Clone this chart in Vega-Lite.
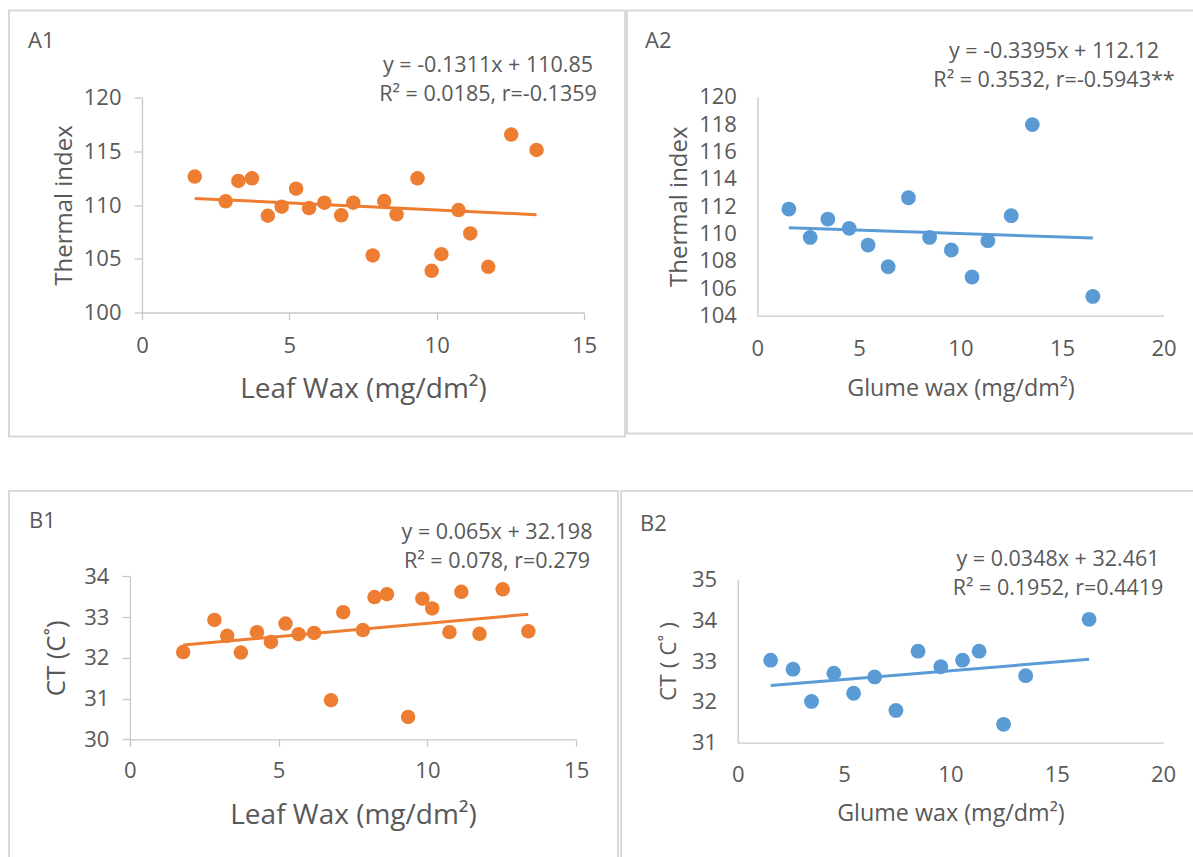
{
  "$schema": "https://vega.github.io/schema/vega-lite/v6.json",
  "background": "white",
  "padding": {"left": 8, "top": 9.5, "right": 0, "bottom": 0},
  "datasets": {
    "leafTI": [
      {"wax": 1.79, "value": 112.64}, {"wax": 2.84, "value": 110.34}, {"wax": 3.27, "value": 112.24},
      {"wax": 3.73, "value": 112.48}, {"wax": 4.27, "value": 109.0}, {"wax": 4.74, "value": 109.84},
      {"wax": 5.23, "value": 111.52}, {"wax": 5.67, "value": 109.72}, {"wax": 6.19, "value": 110.22},
      {"wax": 6.76, "value": 109.04}, {"wax": 7.17, "value": 110.22}, {"wax": 7.83, "value": 105.31},
      {"wax": 8.22, "value": 110.37}, {"wax": 8.64, "value": 109.13}, {"wax": 9.35, "value": 112.48},
      {"wax": 9.83, "value": 103.88}, {"wax": 10.16, "value": 105.43}, {"wax": 10.74, "value": 109.53},
      {"wax": 11.14, "value": 107.36}, {"wax": 11.75, "value": 104.25}, {"wax": 12.53, "value": 116.55},
      {"wax": 13.39, "value": 115.12}
    ],
    "leafTIFit": [{"wax": 1.79, "value": 110.615}, {"wax": 13.39, "value": 109.095}],
    "glumeTI": [
      {"wax": 1.55, "value": 111.79}, {"wax": 2.6, "value": 109.72}, {"wax": 3.47, "value": 111.06},
      {"wax": 4.52, "value": 110.38}, {"wax": 5.45, "value": 109.16}, {"wax": 6.44, "value": 107.58},
      {"wax": 7.44, "value": 112.62}, {"wax": 8.48, "value": 109.72}, {"wax": 9.55, "value": 108.8},
      {"wax": 10.57, "value": 106.83}, {"wax": 11.35, "value": 109.48}, {"wax": 12.5, "value": 111.31},
      {"wax": 13.54, "value": 117.96}, {"wax": 16.52, "value": 105.41}
    ],
    "glumeTIFit": [{"wax": 1.55, "value": 110.43}, {"wax": 16.52, "value": 109.67}],
    "leafCT": [
      {"wax": 1.79, "value": 32.14}, {"wax": 2.84, "value": 32.93}, {"wax": 3.27, "value": 32.54},
      {"wax": 3.73, "value": 32.13}, {"wax": 4.27, "value": 32.63}, {"wax": 4.74, "value": 32.39},
      {"wax": 5.23, "value": 32.84}, {"wax": 5.67, "value": 32.58}, {"wax": 6.19, "value": 32.61},
      {"wax": 6.76, "value": 30.96}, {"wax": 7.17, "value": 33.12}, {"wax": 7.83, "value": 32.68},
      {"wax": 8.22, "value": 33.49}, {"wax": 8.64, "value": 33.56}, {"wax": 9.35, "value": 30.55},
      {"wax": 9.83, "value": 33.45}, {"wax": 10.16, "value": 33.21}, {"wax": 10.74, "value": 32.63},
      {"wax": 11.14, "value": 33.62}, {"wax": 11.75, "value": 32.59}, {"wax": 12.53, "value": 33.68},
      {"wax": 13.39, "value": 32.65}
    ],
    "leafCTFit": [{"wax": 1.79, "value": 32.314}, {"wax": 13.39, "value": 33.068}],
    "glumeCT": [
      {"wax": 1.55, "value": 33.02}, {"wax": 2.6, "value": 32.8}, {"wax": 3.47, "value": 32.01},
      {"wax": 4.52, "value": 32.7}, {"wax": 5.45, "value": 32.21}, {"wax": 6.44, "value": 32.61},
      {"wax": 7.44, "value": 31.79}, {"wax": 8.48, "value": 33.24}, {"wax": 9.55, "value": 32.86},
      {"wax": 10.57, "value": 33.02}, {"wax": 11.35, "value": 33.24}, {"wax": 12.5, "value": 31.45},
      {"wax": 13.54, "value": 32.64}, {"wax": 16.52, "value": 34.02}
    ],
    "glumeCTFit": [{"wax": 1.55, "value": 32.4}, {"wax": 16.52, "value": 33.04}]
  },
  "vconcat": [
    {
      "spacing": 0,
      "hconcat": [
        {
          "title": {"text": "A1", "anchor": "start", "frame": "group", "dx": 19, "offset": -43.3, "fontSize": 22},
          "vconcat": [
            {
              "width": 616,
              "height": 426,
              "title": {"text": ["y = -0.1311x + 110.85", "R² = 0.0185, r=-0.1359"], "anchor": "start", "align": "center", "frame": "group", "dx": 479, "offset": -95.2, "fontSize": 21.5, "lineHeight": 29},
              "layer": [
                {
                  "data": {"name": "leafTI"},
                  "mark": {"type": "circle", "size": 210, "color": "#ED7D31", "opacity": 1},
                  "encoding": {
                    "x": {"field": "wax", "type": "quantitative",
                      "scale": {"domain": [0, 15], "range": [133, 575], "nice": false, "zero": false},
                      "axis": {"values": [0, 5, 10, 15], "offset": -124, "tickSize": 7, "labelPadding": 16,
                        "title": "Leaf Wax (mg/dm²)", "titleFontSize": 28, "titleY": 85, "titleBaseline": "alphabetic"}},
                    "y": {"field": "value", "type": "quantitative",
                      "scale": {"domain": [100, 120], "range": [302, 87], "nice": false, "zero": false},
                      "axis": {"values": [100, 105, 110, 115, 120], "format": "d", "offset": -133, "tickSize": 8, "labelPadding": 13,
                        "title": "Thermal index", "titleFontSize": 24, "titleX": -71, "titleBaseline": "alphabetic"}}
                  }
                },
                {
                  "data": {"name": "leafTIFit"},
                  "mark": {"type": "line", "color": "#ED7D31", "strokeWidth": 3},
                  "encoding": {
                    "x": {"field": "wax", "type": "quantitative"},
                    "y": {"field": "value", "type": "quantitative"}
                  }
                }
              ]
            }
          ]
        },
        {
          "title": {"text": "A2", "anchor": "start", "frame": "group", "dx": 18, "offset": -43, "fontSize": 22},
          "vconcat": [
            {
              "width": 570,
              "height": 423,
              "title": {"text": ["y = -0.3395x + 112.12", "R² = 0.3532, r=-0.5943**"], "anchor": "start", "align": "center", "frame": "group", "dx": 427, "offset": -81.2, "fontSize": 21.5, "lineHeight": 29},
              "layer": [
                {
                  "data": {"name": "glumeTI"},
                  "mark": {"type": "circle", "size": 220, "color": "#5B9BD5", "opacity": 1},
                  "encoding": {
                    "x": {"field": "wax", "type": "quantitative",
                      "scale": {"domain": [0, 20], "range": [130.4, 536.5], "nice": false, "zero": false},
                      "axis": {"values": [0, 5, 10, 15, 20], "offset": -117.8, "ticks": false, "tickSize": 0, "labelPadding": 22.5,
                        "title": "Glume wax (mg/dm²)", "titleFontSize": 23.3, "titleY": 79.3, "titleBaseline": "alphabetic"}},
                    "y": {"field": "value", "type": "quantitative",
                      "scale": {"domain": [104, 120], "range": [305.2, 86.2], "nice": false, "zero": false},
                      "axis": {"values": [104, 106, 108, 110, 112, 114, 116, 118, 120], "format": "d", "offset": -130.4, "ticks": false, "tickSize": 0, "labelPadding": 21,
                        "title": "Thermal index", "titleFontSize": 24, "titleX": -71, "titleBaseline": "alphabetic"}}
                  }
                },
                {
                  "data": {"name": "glumeTIFit"},
                  "mark": {"type": "line", "color": "#5B9BD5", "strokeWidth": 3},
                  "encoding": {
                    "x": {"field": "wax", "type": "quantitative"},
                    "y": {"field": "value", "type": "quantitative"}
                  }
                }
              ]
            }
          ]
        }
      ]
    },
    {
      "spacing": 1,
      "hconcat": [
        {
          "title": {"text": "B1", "anchor": "start", "frame": "group", "dx": 20, "offset": -42.5, "fontSize": 22},
          "vconcat": [
            {
              "width": 609,
              "height": 368,
              "title": {"text": ["y = 0.065x + 32.198", "R² = 0.078, r=0.279"], "anchor": "start", "align": "center", "frame": "group", "dx": 488, "offset": -81, "fontSize": 21.5, "lineHeight": 29},
              "layer": [
                {
                  "data": {"name": "leafCT"},
                  "mark": {"type": "circle", "size": 210, "color": "#ED7D31", "opacity": 1},
                  "encoding": {
                    "x": {"field": "wax", "type": "quantitative",
                      "scale": {"domain": [0, 15], "range": [120.9, 567.2], "nice": false, "zero": false},
                      "axis": {"values": [0, 5, 10, 15], "offset": -119.7, "tickSize": 7, "labelPadding": 14.5,
                        "title": "Leaf Wax (mg/dm²)", "titleFontSize": 28, "titleY": 84, "titleBaseline": "alphabetic"}},
                    "y": {"field": "value", "type": "quantitative",
                      "scale": {"domain": [30, 34], "range": [248.3, 85.3], "nice": false, "zero": false},
                      "axis": {"values": [30, 31, 32, 33, 34], "format": "d", "offset": -120.9, "tickSize": 8, "labelPadding": 13,
                        "title": "CT (C˚)", "titleFontSize": 25.7, "titleX": -65.4, "titleBaseline": "alphabetic"}}
                  }
                },
                {
                  "data": {"name": "leafCTFit"},
                  "mark": {"type": "line", "color": "#ED7D31", "strokeWidth": 3},
                  "encoding": {
                    "x": {"field": "wax", "type": "quantitative"},
                    "y": {"field": "value", "type": "quantitative"}
                  }
                }
              ]
            }
          ]
        },
        {
          "title": {"text": "B2", "anchor": "start", "frame": "group", "dx": 19, "offset": -45.8, "fontSize": 22},
          "vconcat": [
            {
              "width": 576,
              "height": 368,
              "title": {"text": ["y = 0.0348x + 32.461", "R² = 0.1952, r=0.4419"], "anchor": "start", "align": "center", "frame": "group", "dx": 437, "offset": -108.4, "fontSize": 21.5, "lineHeight": 29},
              "layer": [
                {
                  "data": {"name": "glumeCT"},
                  "mark": {"type": "circle", "size": 220, "color": "#5B9BD5", "opacity": 1},
                  "encoding": {
                    "x": {"field": "wax", "type": "quantitative",
                      "scale": {"domain": [0, 20], "range": [116.7, 542.1], "nice": false, "zero": false},
                      "axis": {"values": [0, 5, 10, 15, 20], "offset": -116.3, "ticks": false, "tickSize": 0, "labelPadding": 21.5,
                        "title": "Glume wax (mg/dm²)", "titleFontSize": 23.3, "titleY": 78, "titleBaseline": "alphabetic"}},
                    "y": {"field": "value", "type": "quantitative",
                      "scale": {"domain": [31, 35], "range": [251.7, 88.3], "nice": false, "zero": false},
                      "axis": {"values": [31, 32, 33, 34, 35], "format": "d", "offset": -116.7, "ticks": false, "tickSize": 0, "labelPadding": 21,
                        "title": "CT ( C˚ )", "titleFontSize": 22.7, "titleX": -62, "titleBaseline": "alphabetic"}}
                  }
                },
                {
                  "data": {"name": "glumeCTFit"},
                  "mark": {"type": "line", "color": "#5B9BD5", "strokeWidth": 3},
                  "encoding": {
                    "x": {"field": "wax", "type": "quantitative"},
                    "y": {"field": "value", "type": "quantitative"}
                  }
                }
              ]
            }
          ]
        }
      ]
    }
  ],
  "spacing": 52.5,
  "config": {
    "font": "Open Sans",
    "view": {"stroke": "#d9d9d9", "strokeWidth": 2},
    "axis": {
      "grid": false,
      "domainColor": "#c8c8c8",
      "domainWidth": 1.3,
      "tickColor": "#c8c8c8",
      "tickWidth": 1.3,
      "labelFont": "Open Sans",
      "labelFontSize": 22,
      "labelColor": "#595959",
      "labelFlush": false,
      "labelOverlap": false,
      "titleFont": "Open Sans",
      "titleColor": "#595959",
      "titleFontWeight": "normal"
    },
    "title": {"font": "Open Sans", "color": "#595959", "fontWeight": "normal"}
  }
}
